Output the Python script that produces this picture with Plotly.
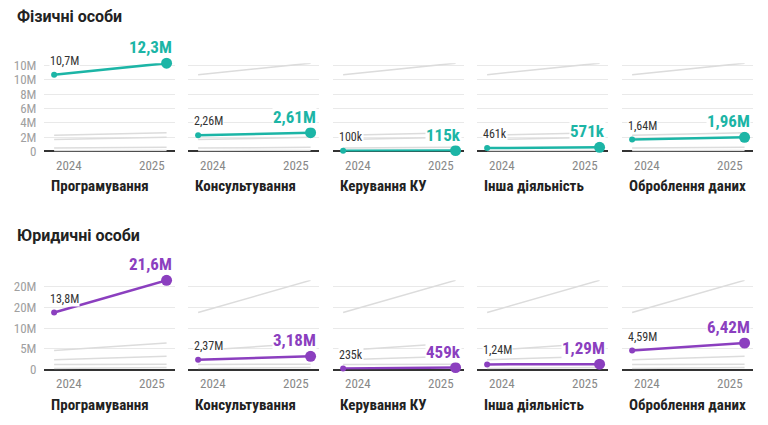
import plotly.graph_objects as go

categories = ["Програмування", "Консультування", "Керування КУ", "Інша діяльність", "Оброблення даних"]
years = ["2024", "2025"]
fiz_2024 = [10.7e6, 2.26e6, 100e3, 461e3, 1.64e6]
fiz_2025 = [12.3e6, 2.61e6, 115e3, 571e3, 1.96e6]
fiz_lbl_2024 = ["10,7M", "2,26M", "100k", "461k", "1,64M"]
fiz_lbl_2025 = ["12,3M", "2,61M", "115k", "571k", "1,96M"]
yur_2024 = [13.8e6, 2.37e6, 235e3, 1.24e6, 4.59e6]
yur_2025 = [21.6e6, 3.18e6, 459e3, 1.29e6, 6.42e6]
yur_lbl_2024 = ["13,8M", "2,37M", "235k", "1,24M", "4,59M"]
yur_lbl_2025 = ["21,6M", "3,18M", "459k", "1,29M", "6,42M"]
fiz_ticks = [0, 2e6, 4e6, 6e6, 8e6, 10e6, 12e6]
fiz_ticktext = ["0", "2M", "4M", "6M", "8M", "10M", "10M"]
yur_ticks = [0, 5e6, 10e6, 15e6, 20e6]
yur_ticktext = ["0", "5M", "10M", "20M", "20M"]
row_titles = ["Фізичні особи", "Юридичні особи"]

TEAL = "#1cb5a6"
PURPLE = "#8b3fbf"
W, H = 768, 425
COND = "Roboto Condensed, Liberation Sans Narrow, DejaVu Sans Condensed, Roboto, sans-serif"

panel_left = [44, 188, 333, 477, 622]
panel_w = 131
rows = [
    dict(v0=fiz_2024, v1=fiz_2025, l0=fiz_lbl_2024, l1=fiz_lbl_2025, ticks=fiz_ticks,
         tt=fiz_ticktext, color=TEAL, bottom=151, top=60, ymax=12.3e6, title_y=12),
    dict(v0=yur_2024, v1=yur_2025, l0=yur_lbl_2024, l1=yur_lbl_2025, ticks=yur_ticks,
         tt=yur_ticktext, color=PURPLE, bottom=376, top=284, ymax=21.6e6, title_y=238),
]

fig = go.Figure()
layout = {}
annotations = []
xv = [0, 1]

for r, row in enumerate(rows):
    annotations.append(dict(text="<b>" + row_titles[r] + "</b>", xref="paper", yref="paper",
                            x=15 / W, y=1 - row["title_y"] / H, xanchor="left", yanchor="middle",
                            showarrow=False, font=dict(family="Roboto, sans-serif", size=16, color="#222")))
    for c in range(5):
        idx = r * 5 + c + 1
        xa = "x" if idx == 1 else f"x{idx}"
        ya = "y" if idx == 1 else f"y{idx}"
        xkey = "xaxis" if idx == 1 else f"xaxis{idx}"
        ykey = "yaxis" if idx == 1 else f"yaxis{idx}"
        layout[xkey] = dict(domain=[panel_left[c] / W, (panel_left[c] + panel_w) / W],
                            anchor=ya, range=[-0.09, 1.075], showgrid=False, zeroline=False,
                            showticklabels=False, fixedrange=True)
        layout[ykey] = dict(domain=[1 - row["bottom"] / H, 1 - row["top"] / H], anchor=xa,
                            range=[0, row["ymax"]], tickvals=row["ticks"], ticktext=row["tt"],
                            showticklabels=(c == 0), showgrid=True, gridcolor="#e9e9e9", gridwidth=1,
                            zeroline=True, zerolinecolor="#333", zerolinewidth=1.5,
                            ticks="outside", ticklen=4, tickcolor="rgba(0,0,0,0)",
                            tickfont=dict(family=COND, size=13, color="#a0a0a0"), fixedrange=True)
        for k in range(5):
            if k == c:
                continue
            fig.add_trace(go.Scatter(x=xv, y=[row["v0"][k], row["v1"][k]], mode="lines",
                                     line=dict(color="#dcdcdc", width=1.5), xaxis=xa, yaxis=ya,
                                     hoverinfo="skip", showlegend=False, cliponaxis=False))
        fig.add_trace(go.Scatter(x=xv, y=[row["v0"][c], row["v1"][c]], mode="lines+markers",
                                 line=dict(color=row["color"], width=2.5),
                                 marker=dict(color=row["color"], size=[6, 11], opacity=1,
                                             line=dict(width=0)),
                                 xaxis=xa, yaxis=ya, showlegend=False, cliponaxis=False))
        annotations.append(dict(text=row["l0"][c], x=0, y=row["v0"][c], xref=xa, yref=ya,
                                xanchor="left", yanchor="middle", xshift=-5, yshift=14,
                                showarrow=False, bgcolor="white", borderpad=0,
                                font=dict(family=COND, size=12, color="#333")))
        annotations.append(dict(text="<b>" + row["l1"][c] + "</b>", x=1, y=row["v1"][c], xref=xa, yref=ya,
                                xanchor="right", yanchor="middle", xshift=6, yshift=16,
                                showarrow=False, bgcolor="white", borderpad=0,
                                font=dict(family=COND, size=17, color=row["color"])))
        annotations.append(dict(text=years[0], x=0, y=0, xref=xa, yref=ya, xanchor="left",
                                yanchor="middle", yshift=-14, showarrow=False,
                                font=dict(family=COND, size=13, color="#888")))
        annotations.append(dict(text=years[1], x=1, y=0, xref=xa, yref=ya, xanchor="right",
                                yanchor="middle", yshift=-14, showarrow=False,
                                font=dict(family=COND, size=13, color="#888")))
        annotations.append(dict(text="<b>" + categories[c] + "</b>", x=0, y=0,
                                xref=xa + " domain", yref=ya, xanchor="left", yanchor="middle",
                                xshift=5, yshift=-35, showarrow=False,
                                font=dict(family=COND, size=15, color="#222")))

fig.update_layout(width=W, height=H, margin=dict(l=0, r=0, t=0, b=0),
                  paper_bgcolor="white", plot_bgcolor="white", annotations=annotations, **layout)
fig.write_html("out.html")
